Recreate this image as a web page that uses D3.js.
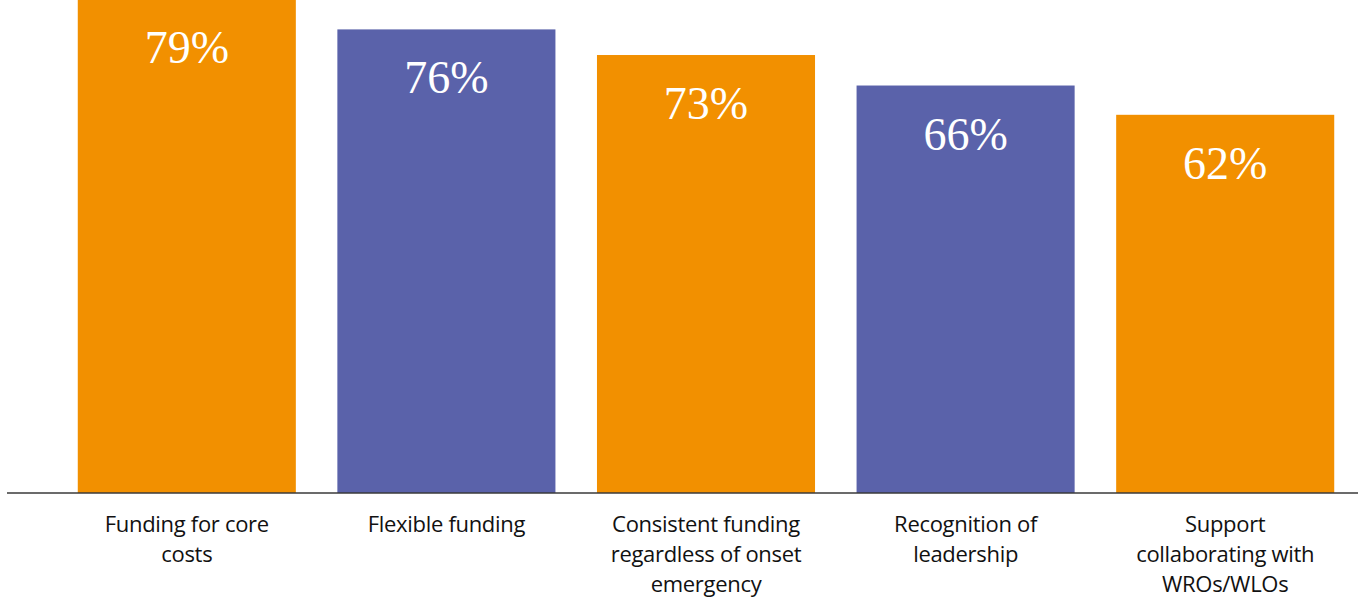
<!DOCTYPE html>
<html>
<head>
<meta charset="utf-8">
<script src="https://cdn.jsdelivr.net/npm/d3@7"></script>
<style>
  body { margin: 0; background: #fff; }
  svg { display: block; }
</style>
</head>
<body>
<svg></svg>
<script>
const svg = d3.select("svg");

let width = 1358,
    height = 600,
    baseY = 493;

svg.attr("width", width).attr("height", height);

// categories, each split on "|" for the line breaks under the bars
const categories = [
    "Funding for core|costs",
    "Flexible funding",
    "Consistent funding|regardless of onset|emergency",
    "Recognition of|leadership",
    "Support|collaborating with|WROs/WLOs"
];
// printed labels
const labels = [79, 76, 73, 66, 62];
// bar heights as drawn (in %)
const barValues = [81, 76, 71.8, 66.8, 62];
const colors = ["#F29000", "#5A62AA", "#F29000", "#5A62AA", "#F29000"];

const xScale = d3
    .scaleBand()
    .domain(categories)
    .range([57, 1355])
    .paddingInner(0.16)
    .paddingOuter(0.08);

const yScale = d3
    .scaleLinear()
    .domain([0, 80])
    .range([baseY, baseY - 6.1 * 80]);

// bars
svg
    .selectAll("rect.bar")
    .data(categories)
    .enter()
    .append("rect")
    .attr("class", "bar")
    .attr("x", (d) => xScale(d))
    .attr("y", (d, i) => yScale(barValues[i]))
    .attr("width", xScale.bandwidth())
    .attr("height", (d, i) => baseY - yScale(barValues[i]))
    .attr("fill", (d, i) => colors[i]);

// value labels inside bars
svg
    .selectAll("text.value")
    .data(categories)
    .enter()
    .append("text")
    .attr("class", "value")
    .attr("x", (d) => xScale(d) + xScale.bandwidth() / 2)
    .attr("y", (d, i) => yScale(barValues[i]) + 64)
    .attr("text-anchor", "middle")
    .attr("fill", "#fff")
    .attr("font-family", "'Liberation Serif', serif")
    .attr("font-size", 46)
    .text((d, i) => `${labels[i]}%`);

// baseline
svg
    .append("line")
    .attr("x1", 7)
    .attr("x2", width)
    .attr("y1", baseY)
    .attr("y2", baseY)
    .attr("stroke", "#3a3a3a")
    .attr("stroke-width", 1.5);

// category labels
const cat = svg
    .selectAll("text.cat")
    .data(categories)
    .enter()
    .append("text")
    .attr("class", "cat")
    .attr("text-anchor", "middle")
    .attr("fill", "#111")
    .attr("font-family", "'Open Sans', sans-serif")
    .attr("font-size", 22)
    .attr("letter-spacing", -0.3);

cat.each(function(d) {
    const cx = xScale(d) + xScale.bandwidth() / 2;
    d.split("|").forEach((line, j) => {
        d3.select(this)
            .append("tspan")
            .attr("x", cx)
            .attr("y", 532 + j * 30)
            .text(line);
    });
});
</script>
</body>
</html>
